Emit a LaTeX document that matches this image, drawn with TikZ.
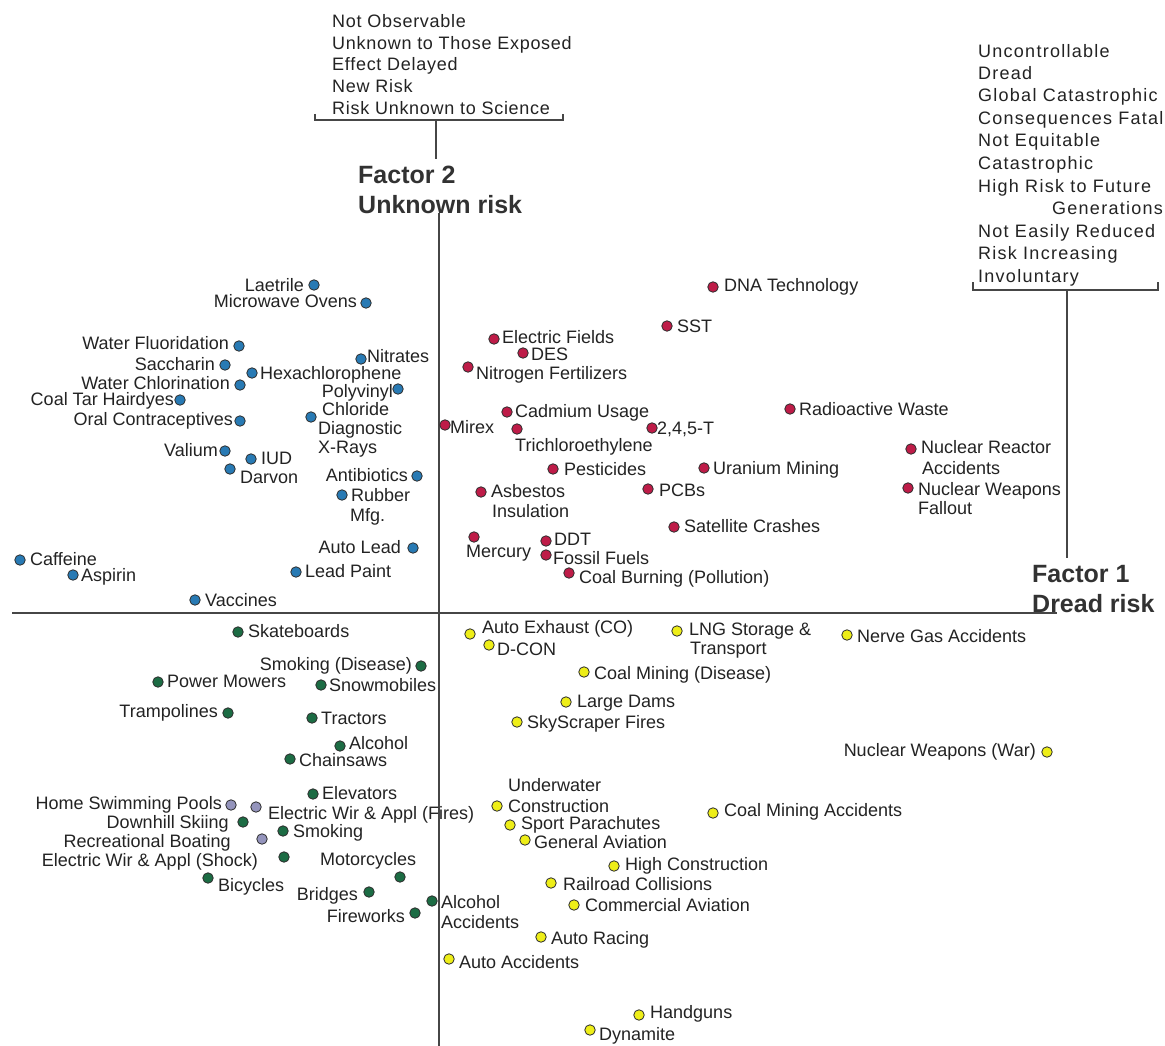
\documentclass[tikz,border=0pt]{standalone}
\usepackage{fontspec}
\setmainfont{Liberation Sans}
\newfontfamily\hspfont[LetterSpace=4]{Liberation Sans}
\newfontfamily\rspfont[LetterSpace=7]{Liberation Sans}
\newcommand\labfont{\fontsize{18}{21}\selectfont}
\newcommand\hdlfont{\hspfont\fontsize{18}{21}\selectfont}
\newcommand\hdrfont{\rspfont\fontsize{18}{21}\selectfont}
\newcommand\facfont{\bfseries\fontsize{25}{30}\selectfont}
\definecolor{cblue}{RGB}{40,122,180}
\definecolor{cred}{RGB}{190,28,72}
\definecolor{cgreen}{RGB}{28,108,68}
\definecolor{cyellow}{RGB}{238,238,24}
\definecolor{cviolet}{RGB}{148,148,188}
\definecolor{dotedge}{RGB}{45,45,45}
\definecolor{txt}{RGB}{35,35,35}
\definecolor{axisc}{RGB}{70,70,70}
\definecolor{factxt}{RGB}{50,50,50}
\tikzset{
  pdot/.style={circle,draw=dotedge,line width=0.8pt,inner sep=0pt,minimum size=10.5pt},
  pb/.style={pdot,fill=cblue},
  pr/.style={pdot,fill=cred},
  pg/.style={pdot,fill=cgreen},
  py/.style={pdot,fill=cyellow},
  pv/.style={pdot,fill=cviolet},
  labbase/.style={inner sep=0pt,text=txt,text height=12.9pt,text depth=0pt},
  labw/.style={labbase,font=\labfont,anchor=west},
  labe/.style={labbase,font=\labfont,anchor=east},
  hdl/.style={labbase,font=\hdlfont,anchor=west},
  hdr/.style={labbase,font=\hdrfont,anchor=west},
  fac/.style={inner sep=0pt,anchor=west,font=\facfont,text=factxt,text height=18pt,text depth=0pt},
  axln/.style={draw=axisc,line width=1.6pt},
  brk/.style={draw=axisc,line width=1.5pt}
}
\begin{document}
\begin{tikzpicture}[x=1pt,y=-1pt]
\path[use as bounding box,fill=white] (0,0) rectangle (1165,1046);

% axes
\coordinate (vtop) at (439,213);
\coordinate (vbot) at (439,1046);
\coordinate (hl) at (12,613);
\coordinate (hr) at (1057,613);
\draw[axln] (vtop) -- (vbot);
\draw[axln] (hl) -- (hr);

% top bracket
\coordinate (tbl) at (315,114);
\coordinate (tblc) at (315,120);
\coordinate (tbrc) at (563,120);
\coordinate (tbr) at (563,114);
\coordinate (tbs) at (436,120);
\coordinate (tbe) at (436,159);
\draw[brk] (tbl) -- (tblc) -- (tbrc) -- (tbr);
\draw[brk] (tbs) -- (tbe);

% right bracket
\coordinate (rbl) at (973,282);
\coordinate (rblc) at (973,290);
\coordinate (rbrc) at (1158,290);
\coordinate (rbr) at (1158,282);
\coordinate (rbs) at (1067,290);
\coordinate (rbe) at (1067,558);
\draw[brk] (rbl) -- (rblc) -- (rbrc) -- (rbr);
\draw[brk] (rbs) -- (rbe);

% factor titles
\node[fac] (f2a) at (358,174) {Factor 2};
\node[fac] (f2b) at (358,204) {Unknown risk};
\node[fac] (f1a) at (1032,573) {Factor 1};
\node[fac] (f1b) at (1032,603) {Dread risk};

% top-left header block
\node[hdl] (t1) at (332,21) {Not Observable};
\node[hdl] (t2) at (332,43) {Unknown to Those Exposed};
\node[hdl] (t3) at (332,64) {Effect Delayed};
\node[hdl] (t4) at (332,86) {New Risk};
\node[hdl] (t5) at (332,108) {Risk Unknown to Science};

% right header block
\node[hdr] (r1) at (978,51) {Uncontrollable};
\node[hdr] (r2) at (978,73) {Dread};
\node[hdr] (r3) at (978,95) {Global Catastrophic};
\node[hdr] (r4) at (978,118) {Consequences Fatal};
\node[hdr] (r5) at (978,140) {Not Equitable};
\node[hdr] (r6) at (978,163) {Catastrophic};
\node[hdr] (r7) at (978,186) {High Risk to Future};
\node[hdr] (r8) at (1052,208) {Generations};
\node[hdr] (r9) at (978,231) {Not Easily Reduced};
\node[hdr] (r10) at (978,253) {Risk Increasing};
\node[hdr] (r11) at (978,276) {Involuntary};

% ---------- blue ----------
\node[pb] (p-laet) at (314,285) {};   \node[labe] (l-laet) at (304,285) {Laetrile};
\node[pb] (p-micro) at (366,303) {};  \node[labe] (l-micro) at (357,301) {Microwave Ovens};
\node[pb] (p-wflu) at (239,346) {};   \node[labe] (l-wflu) at (229,343) {Water Fluoridation};
\node[pb] (p-sacc) at (225,365) {};   \node[labe] (l-sacc) at (215,364) {Saccharin};
\node[pb] (p-wchl) at (240,385) {};   \node[labe] (l-wchl) at (230,383) {Water Chlorination};
\node[pb] (p-hexa) at (252,373) {};   \node[labw] (l-hexa) at (260,373) {Hexachlorophene};
\node[pb] (p-ctar) at (180,400) {};   \node[labe] (l-ctar) at (174,399) {Coal Tar Hairdyes};
\node[pb] (p-oral) at (240,421) {};   \node[labe] (l-oral) at (233,419) {Oral Contraceptives};
\node[pb] (p-nitr) at (361,359) {};   \node[labw] (l-nitr) at (367,356) {Nitrates};
\node[pb] (p-poly) at (398,389) {};   \node[labe] (l-poly) at (393,391) {Polyvinyl};
                                      \node[labw] (l-poly2) at (322,409) {Chloride};
\node[pb] (p-diag) at (311,417) {};   \node[labw] (l-diag) at (318,428) {Diagnostic};
                                      \node[labw] (l-diag2) at (318,447) {X-Rays};
\node[pb] (p-val) at (225,451) {};    \node[labe] (l-val) at (218,450) {Valium};
\node[pb] (p-iud) at (251,459) {};    \node[labw] (l-iud) at (261,458) {IUD};
\node[pb] (p-darv) at (230,469) {};   \node[labw] (l-darv) at (240,477) {Darvon};
\node[pb] (p-anti) at (417,476) {};   \node[labe] (l-anti) at (408,475) {Antibiotics};
\node[pb] (p-rubb) at (342,495) {};   \node[labw] (l-rubb) at (351,495) {Rubber};
                                      \node[labw] (l-rubb2) at (350,515) {Mfg.};
\node[pb] (p-alead) at (413,548) {};  \node[labe] (l-alead) at (401,547) {Auto Lead};
\node[pb] (p-lpaint) at (296,572) {}; \node[labw] (l-lpaint) at (305,571) {Lead Paint};
\node[pb] (p-caff) at (20,560) {};    \node[labw] (l-caff) at (30,559) {Caffeine};
\node[pb] (p-asp) at (73,575) {};     \node[labw] (l-asp) at (81,575) {Aspirin};
\node[pb] (p-vacc) at (195,600) {};   \node[labw] (l-vacc) at (205,600) {Vaccines};

% ---------- red ----------
\node[pr] (p-dna) at (713,287) {};    \node[labw] (l-dna) at (724,285) {DNA Technology};
\node[pr] (p-sst) at (667,326) {};    \node[labw] (l-sst) at (677,326) {SST};
\node[pr] (p-efield) at (494,339) {}; \node[labw] (l-efield) at (502,337) {Electric Fields};
\node[pr] (p-des) at (523,353) {};    \node[labw] (l-des) at (531,354) {DES};
\node[pr] (p-nfert) at (468,367) {};  \node[labw] (l-nfert) at (476,373) {Nitrogen Fertilizers};
\node[pr] (p-cad) at (507,412) {};    \node[labw] (l-cad) at (515,411) {Cadmium Usage};
\node[pr] (p-mirex) at (445,425) {};  \node[labw] (l-mirex) at (450,427) {Mirex};
\node[pr] (p-tri) at (517,429) {};    \node[labw] (l-tri) at (515,445) {Trichloroethylene};
\node[pr] (p-245) at (652,428) {};    \node[labw] (l-245) at (657,428) {2,4,5-T};
\node[pr] (p-rad) at (790,409) {};    \node[labw] (l-rad) at (799,409) {Radioactive Waste};
\node[pr] (p-pest) at (553,469) {};   \node[labw] (l-pest) at (564,469) {Pesticides};
\node[pr] (p-uran) at (704,468) {};   \node[labw] (l-uran) at (713,468) {Uranium Mining};
\node[pr] (p-asb) at (481,492) {};    \node[labw] (l-asb) at (491,491) {Asbestos};
                                      \node[labw] (l-asb2) at (492,511) {Insulation};
\node[pr] (p-pcb) at (648,489) {};    \node[labw] (l-pcb) at (659,490) {PCBs};
\node[pr] (p-nra) at (911,449) {};    \node[labw] (l-nra) at (921,447) {Nuclear Reactor};
                                      \node[labw] (l-nra2) at (922,468) {Accidents};
\node[pr] (p-nwf) at (908,488) {};    \node[labw] (l-nwf) at (918,489) {Nuclear Weapons};
                                      \node[labw] (l-nwf2) at (918,508) {Fallout};
\node[pr] (p-sat) at (674,527) {};    \node[labw] (l-sat) at (684,526) {Satellite Crashes};
\node[pr] (p-merc) at (474,537) {};   \node[labw] (l-merc) at (466,551) {Mercury};
\node[pr] (p-ddt) at (546,541) {};    \node[labw] (l-ddt) at (554,539) {DDT};
\node[pr] (p-foss) at (546,555) {};   \node[labw] (l-foss) at (553,558) {Fossil Fuels};
\node[pr] (p-coalb) at (569,573) {};  \node[labw] (l-coalb) at (579,577) {Coal Burning (Pollution)};

% ---------- green / violet ----------
\node[pg] (p-skate) at (238,632) {};  \node[labw] (l-skate) at (248,631) {Skateboards};
\node[pg] (p-smokd) at (421,666) {};  \node[labe] (l-smokd) at (412,664) {Smoking (Disease)};
\node[pg] (p-pmow) at (158,682) {};   \node[labw] (l-pmow) at (167,681) {Power Mowers};
\node[pg] (p-snow) at (321,685) {};   \node[labw] (l-snow) at (329,685) {Snowmobiles};
\node[pg] (p-tramp) at (228,713) {};  \node[labe] (l-tramp) at (218,711) {Trampolines};
\node[pg] (p-tract) at (312,718) {};  \node[labw] (l-tract) at (321,718) {Tractors};
\node[pg] (p-alc) at (340,746) {};    \node[labw] (l-alc) at (349,743) {Alcohol};
\node[pg] (p-chain) at (290,759) {};  \node[labw] (l-chain) at (299,760) {Chainsaws};
\node[pg] (p-elev) at (313,794) {};   \node[labw] (l-elev) at (322,793) {Elevators};
\node[pv] (p-efire) at (256,807) {};  \node[labw] (l-efire) at (268,813) {Electric Wir \& Appl (Fires)};
\node[pv] (p-pool) at (231,805) {};   \node[labe] (l-pool) at (222,803) {Home Swimming Pools};
\node[pg] (p-ski) at (243,822) {};    \node[labe] (l-ski) at (229,822) {Downhill Skiing};
\node[pg] (p-smok) at (283,831) {};   \node[labw] (l-smok) at (293,831) {Smoking};
\node[pv] (p-boat) at (262,839) {};   \node[labe] (l-boat) at (231,841) {Recreational Boating};
\node[pg] (p-shock) at (284,857) {};  \node[labe] (l-shock) at (258,860) {Electric Wir \& Appl (Shock)};
\node[pg] (p-moto) at (400,877) {};   \node[labw] (l-moto) at (320,859) {Motorcycles};
\node[pg] (p-bike) at (208,878) {};   \node[labw] (l-bike) at (218,885) {Bicycles};
\node[pg] (p-bridge) at (369,892) {}; \node[labe] (l-bridge) at (358,894) {Bridges};
\node[pg] (p-alcacc) at (432,901) {}; \node[labw] (l-alcacc) at (441,902) {Alcohol};
                                      \node[labw] (l-alcacc2) at (441,922) {Accidents};
\node[pg] (p-fire) at (415,913) {};   \node[labe] (l-fire) at (405,916) {Fireworks};

% ---------- yellow ----------
\node[py] (p-aexh) at (470,634) {};   \node[labw] (l-aexh) at (482,627) {Auto Exhaust (CO)};
\node[py] (p-dcon) at (489,645) {};   \node[labw] (l-dcon) at (497,649) {D-CON};
\node[py] (p-lng) at (677,631) {};    \node[labw] (l-lng) at (689,629) {LNG Storage \&};
                                      \node[labw] (l-lng2) at (690,648) {Transport};
\node[py] (p-nerve) at (847,635) {};  \node[labw] (l-nerve) at (857,636) {Nerve Gas Accidents};
\node[py] (p-cmd) at (584,672) {};    \node[labw] (l-cmd) at (594,673) {Coal Mining (Disease)};
\node[py] (p-dams) at (566,702) {};   \node[labw] (l-dams) at (577,701) {Large Dams};
\node[py] (p-sky) at (517,722) {};    \node[labw] (l-sky) at (527,722) {SkyScraper Fires};
\node[py] (p-nww) at (1047,752) {};   \node[labe] (l-nww) at (1036,750) {Nuclear Weapons (War)};
\node[py] (p-under) at (497,806) {};  \node[labw] (l-under) at (508,785) {Underwater};
                                      \node[labw] (l-under2) at (508,806) {Construction};
\node[py] (p-cma) at (713,813) {};    \node[labw] (l-cma) at (724,810) {Coal Mining Accidents};
\node[py] (p-para) at (510,825) {};   \node[labw] (l-para) at (521,823) {Sport Parachutes};
\node[py] (p-gav) at (525,840) {};    \node[labw] (l-gav) at (534,842) {General Aviation};
\node[py] (p-hcon) at (614,866) {};   \node[labw] (l-hcon) at (625,864) {High Construction};
\node[py] (p-rail) at (551,883) {};   \node[labw] (l-rail) at (563,884) {Railroad Collisions};
\node[py] (p-comm) at (574,905) {};   \node[labw] (l-comm) at (585,905) {Commercial Aviation};
\node[py] (p-race) at (541,937) {};   \node[labw] (l-race) at (551,938) {Auto Racing};
\node[py] (p-aacc) at (449,959) {};   \node[labw] (l-aacc) at (459,962) {Auto Accidents};
\node[py] (p-hand) at (639,1015) {};  \node[labw] (l-hand) at (650,1012) {Handguns};
\node[py] (p-dyn) at (590,1030) {};   \node[labw] (l-dyn) at (599,1034) {Dynamite};
\end{tikzpicture}
\end{document}
